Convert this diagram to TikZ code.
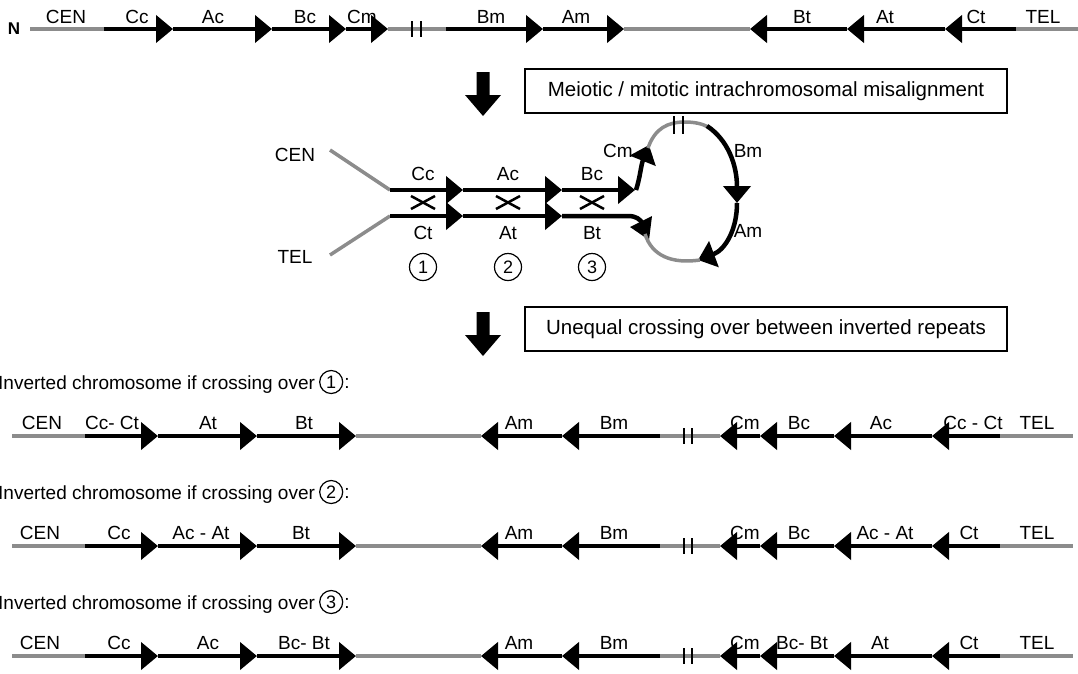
\documentclass[tikz,border=0pt]{standalone}
\usepackage{fontspec}
\setmainfont{Liberation Sans}
\usetikzlibrary{arrows.meta}
\definecolor{chrgray}{RGB}{140,140,140}
\begin{document}
\begin{tikzpicture}[x=1pt,y=-1pt,
  font=\fontsize{19}{22}\selectfont,
  blk/.style={line width=4.5pt, black, -{Triangle[length=17pt,width=27pt]}},
  gry/.style={line width=3.5pt, chrgray},
  brkmark/.style={line width=1.6pt, black},
  lbl/.style={anchor=base, inner sep=0pt},
  circ/.style={draw, circle, line width=1.2pt, inner sep=0pt, minimum size=23pt, font=\fontsize{18}{18}\selectfont},
  bigcirc/.style={circ, minimum size=27pt},
  xmark/.style={line width=2.5pt, black},
  bigarrow/.style={fill=black},
  msgbox/.style={draw, line width=1.2pt, minimum width=482pt, minimum height=44pt, inner sep=0pt, font=\fontsize{20.5}{24}\selectfont}]
\useasboundingbox (0,0) rectangle (1078,673);
\fill[white] (0,0) rectangle (1078,673);

% ---------------- top row -----------------
\node[font=\fontsize{17}{17}\selectfont\bfseries] (N) at (14,29) {N};
\draw[gry] (30,29) -- (104,29);
\draw[blk] (104,29) -- (173,29);
\draw[blk] (173,29) -- (272,29);
\draw[blk] (272,29) -- (346,29);
\draw[blk] (346,29) -- (388,29);
\draw[gry] (388,29) -- (446,29);
\draw[brkmark] (412,21) -- (412,37);
\draw[brkmark] (421,21) -- (421,37);
\draw[blk] (446,29) -- (543,29);
\draw[blk] (543,29) -- (624,29);
\draw[gry] (624,29) -- (750,29);
\draw[blk] (847,29) -- (750,29);
\draw[blk] (945,29) -- (847,29);
\draw[blk] (1016,29) -- (945,29);
\draw[gry] (1016,29) -- (1078,29);
\foreach \x/\t [count=\i] in {66/CEN,137/Cc,213/Ac,305/Bc,362/Cm,491/Bm,576/Am,802/Bt,885/At,976/Ct,1043/TEL}
  \node[lbl] (t\i) at (\x,23) {\t};

% ---------------- first step -----------------
\fill[bigarrow] (476.5,72) -- (489.5,72) -- (489.5,95) -- (501,95) -- (483,116) -- (465,95) -- (476.5,95) -- cycle;
\node[msgbox] (box1) at (766,91) {Meiotic / mitotic intrachromosomal misalignment};

% ---------------- misalignment -----------------
\node[lbl] (mcen) at (295,161) {CEN};
\node[lbl] (mtel) at (295,263) {TEL};
\draw[gry] (330,150) -- (390,190);
\draw[gry] (330,255) -- (390,216);
\draw[blk] (390,190) -- (463,190);
\draw[blk] (463,190) -- (562,190);
\draw[blk] (562,190) -- (635,190);
\draw[blk] (390,216) -- (463,216);
\draw[blk] (463,216) -- (562,216);
\draw[line width=4.5pt] (562,216) -- (628,216) .. controls (636,216) and (640,219) .. (643,224);
\fill (630,227) -- (652,216) -- (649,240) -- cycle;
\foreach \x in {423,508,592} {
  \draw[xmark] (\x-12,196) -- (\x+12,209);
  \draw[xmark] (\x-12,209) -- (\x+12,196);
}
\foreach \x/\t [count=\i] in {423/Cc,508/Ac,592/Bc} \node[lbl] (mu\i) at (\x,180) {\t};
\foreach \x/\t [count=\i] in {423/Ct,508/At,592/Bt} \node[lbl] (md\i) at (\x,239) {\t};
\foreach \x/\t [count=\i] in {423/1,508/2,592/3} \node[bigcirc] (mc\i) at (\x,267) {\t};
% loop
\draw[blk] (636,190) .. controls (640,178) and (641,165) .. (649,145);
\draw[gry] (648,148) .. controls (655,128) and (668,122) .. (685,122) .. controls (695,122) and (703,124) .. (708,127);
\draw[brkmark] (674,116) -- (674,134);
\draw[brkmark] (683,116) -- (683,134);
\draw[blk] (707,126) .. controls (728,140) and (737,165) .. (737,203);
\draw[blk] (737,203) .. controls (737,230) and (725,250) .. (698,260);
\draw[gry] (700,260) .. controls (672,264) and (652,256) .. (645,234);
\node[lbl] (mcm) at (618,157) {Cm};
\node[lbl] (mbm) at (748,157) {Bm};
\node[lbl] (mam) at (748,237) {Am};

% ---------------- second step -----------------
\fill[bigarrow] (476.5,312) -- (489.5,312) -- (489.5,335) -- (501,335) -- (483,356) -- (465,335) -- (476.5,335) -- cycle;
\node[msgbox] (box2) at (766,329) {Unequal crossing over between inverted repeats};

% ---------------- inverted chromosomes -----------------
\foreach \y/\n [count=\k] in {436/1,546/2,656/3} {
  \node[anchor=base west, inner sep=0pt] (h\k) at (-2,\y-47) {Inverted chromosome if crossing over};
  \node[circ] (hc\k) at ([xshift=16pt,yshift=7pt]h\k.base east) {\n};
  \node[anchor=west, inner sep=1pt] (hcol\k) at ([yshift=-1pt]hc\k.east) {:};
  \draw[gry] (12,\y) -- (85,\y);
  \draw[blk] (85,\y) -- (158,\y);
  \draw[blk] (158,\y) -- (257,\y);
  \draw[blk] (257,\y) -- (356,\y);
  \draw[gry] (356,\y) -- (481,\y);
  \draw[blk] (562,\y) -- (481,\y);
  \draw[blk] (660,\y) -- (562,\y);
  \draw[gry] (660,\y) -- (720,\y);
  \draw[brkmark] (684,\y-8) -- (684,\y+8);
  \draw[brkmark] (692,\y-8) -- (692,\y+8);
  \draw[blk] (760,\y) -- (720,\y);
  \draw[blk] (834,\y) -- (760,\y);
  \draw[blk] (932,\y) -- (834,\y);
  \draw[blk] (1000,\y) -- (932,\y);
  \draw[gry] (1000,\y) -- (1073,\y);
}
\foreach \x/\t [count=\i] in {42/CEN,112/{Cc- Ct},208/At,304/Bt,519/Am,614/Bm,745/Cm,799/Bc,881/Ac,973/{Cc - Ct},1037/TEL}
  \node[lbl] (ra\i) at (\x,429) {\t};
\foreach \x/\t [count=\i] in {40/CEN,119/Cc,201/{Ac - At},301/Bt,519/Am,614/Bm,745/Cm,799/Bc,885/{Ac - At},969/Ct,1037/TEL}
  \node[lbl] (rb\i) at (\x,539) {\t};
\foreach \x/\t [count=\i] in {40/CEN,119/Cc,208/Ac,304/{Bc- Bt},519/Am,614/Bm,745/Cm,802/{Bc- Bt},880/At,969/Ct,1037/TEL}
  \node[lbl] (rc\i) at (\x,649) {\t};
\end{tikzpicture}
\end{document}
